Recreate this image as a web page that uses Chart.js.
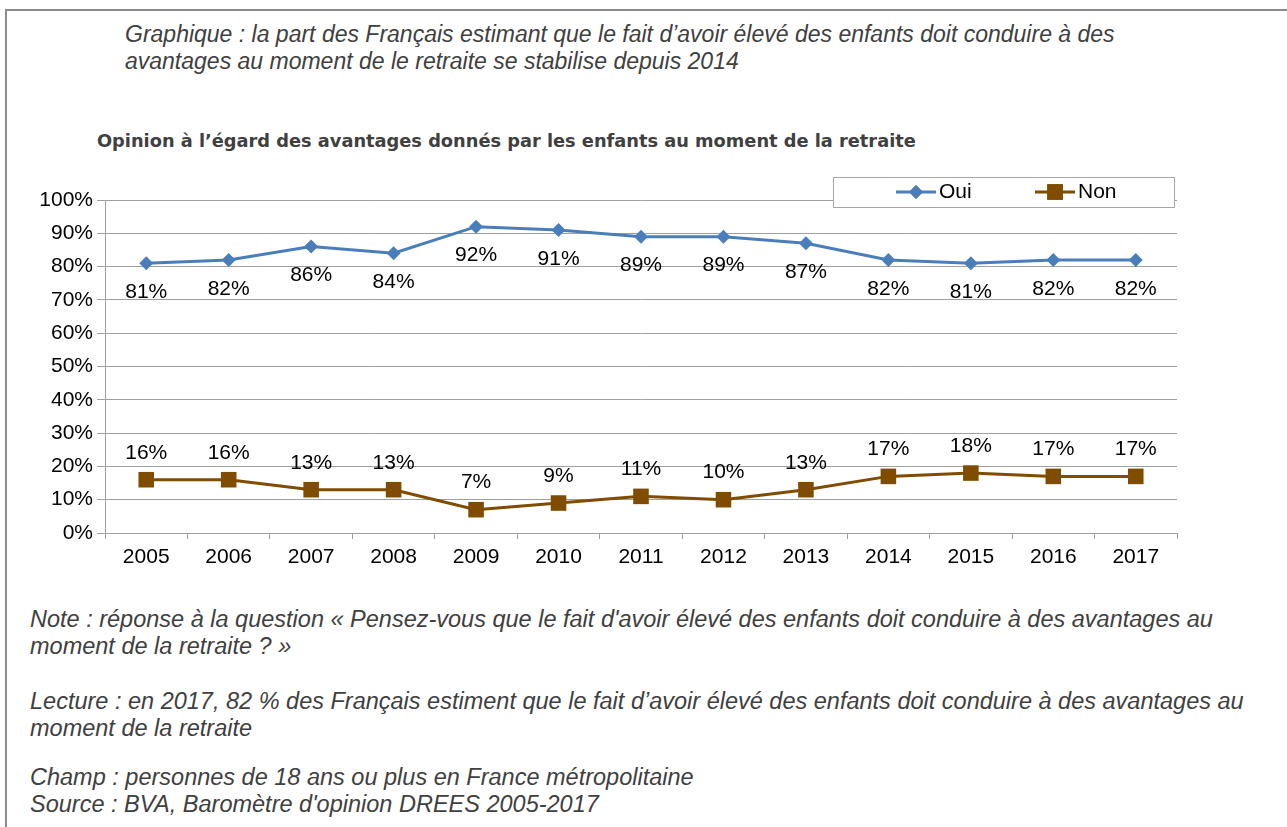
<!DOCTYPE html>
<html>
<head>
<meta charset="utf-8">
<script src="https://cdn.jsdelivr.net/npm/chart.js@4/dist/chart.umd.min.js"></script>
<style>
  body { margin: 0; background: #fff; font-family: "Liberation Sans", Arial, sans-serif; }
  #wrap { position: relative; width: 1287px; height: 827px; overflow: hidden; }
  #frame { position: absolute; left: 5px; top: 9px; width: 1300px; height: 900px; border-left: 2px solid #8c8c8c; border-top: 2px solid #8c8c8c; }
  .txt { position: absolute; font-style: italic; font-size: 23.5px; color: #404040; white-space: nowrap; line-height: 27px; }
  #title { position: absolute; left: 97px; top: 130px; font-family: "DejaVu Sans", sans-serif; font-weight: bold; font-size: 17.8px; color: #404040; white-space: nowrap; }
  canvas { position: absolute; left: 0; top: 0; }
</style>
</head>
<body>
<div id="wrap">
  <div id="frame"></div>
  <div class="txt" style="left:125px; top:21px; font-size:23px;">Graphique : la part des Français estimant que le fait d’avoir élevé des enfants doit conduire à des<br>avantages au moment de le retraite se stabilise depuis 2014</div>
  <div id="title">Opinion à l’égard des avantages donnés par les enfants au moment de la retraite</div>
  <div class="txt" style="left:30px; top:606px;">Note : réponse à la question « Pensez-vous que le fait d'avoir élevé des enfants doit conduire à des avantages au<br>moment de la retraite ? »</div>
  <div class="txt" style="left:30px; top:688px;">Lecture : en 2017, 82 % des Français estiment que le fait d’avoir élevé des enfants doit conduire à des avantages au<br>moment de la retraite</div>
  <div class="txt" style="left:30px; top:764px;">Champ : personnes de 18 ans ou plus en France métropolitaine<br>Source : BVA, Baromètre d'opinion DREES 2005-2017</div>
  <canvas id="chart" width="1287" height="827"></canvas>
</div>
<script>
const years = ['2005', '2006', '2007', '2008', '2009', '2010', '2011', '2012', '2013', '2014', '2015', '2016', '2017'];
const oui = [81, 82, 86, 84, 92, 91, 89, 89, 87, 82, 81, 82, 82];
const non = [16, 16, 13, 13, 7, 9, 11, 10, 13, 17, 18, 17, 17];
const yTicks = [0, 10, 20, 30, 40, 50, 60, 70, 80, 90, 100];

const blue = '#4a7ebb';
const brown = '#7f4c00';
const fontFamily = '"Liberation Sans", Arial, sans-serif';
const labelFont = '21px ' + fontFamily;

// value labels: Oui below the point, Non above
const valueLabels = {
    id: 'valueLabels',
    afterDatasetsDraw(chart) {
        const ctx = chart.ctx;
        ctx.save();
        ctx.font = labelFont;
        ctx.fillStyle = '#000';
        ctx.textAlign = 'center';
        ctx.textBaseline = 'middle';
        chart.data.datasets.forEach((ds, i) => {
            const meta = chart.getDatasetMeta(i);
            meta.data.forEach((pt, j) => {
                const dy = i === 0 ? 29 : -27;
                ctx.fillText(ds.data[j] + '%', pt.x, pt.y + dy);
            });
        });
        ctx.restore();
    }
};

// boxed legend drawn over the top gridline
const boxLegend = {
    id: 'boxLegend',
    afterDraw(chart) {
        const ctx = chart.ctx;
        ctx.save();
        ctx.fillStyle = '#fff';
        ctx.fillRect(833, 177, 341, 30);
        ctx.strokeStyle = '#a6a6a6';
        ctx.lineWidth = 1;
        ctx.strokeRect(833.5, 177.5, 341, 30);

        const items = [
            { x: 916, text: 'Oui', color: blue, style: 'rectRot', r: 7 },
            { x: 1055, text: 'Non', color: brown, style: 'rect', r: 11 }
        ];
        const y = 192;
        items.forEach(it => {
            ctx.strokeStyle = it.color;
            ctx.lineWidth = 3;
            ctx.beginPath();
            ctx.moveTo(it.x - 20, y);
            ctx.lineTo(it.x + 20, y);
            ctx.stroke();
            ctx.fillStyle = it.color;
            Chart.helpers.drawPoint(ctx, { pointStyle: it.style, radius: it.r, borderWidth: 0 }, it.x, y);
            ctx.fill();
            ctx.fillStyle = '#000';
            ctx.font = labelFont;
            ctx.textBaseline = 'middle';
            ctx.fillText(it.text, it.x + 23, y);
        });
        ctx.restore();
    }
};

new Chart(document.getElementById('chart'), {
    type: 'line',
    data: {
        labels: years,
        datasets: [
            {
                label: 'Oui',
                data: oui,
                borderColor: blue,
                backgroundColor: blue,
                borderWidth: 3,
                pointStyle: 'rectRot',
                pointRadius: 7,
                pointBorderWidth: 0,
                tension: 0
            },
            {
                label: 'Non',
                data: non,
                borderColor: brown,
                backgroundColor: brown,
                borderWidth: 3,
                pointStyle: 'rect',
                pointRadius: 11,
                pointBorderWidth: 0,
                tension: 0
            }
        ]
    },
    options: {
        responsive: false,
        animation: false,
        layout: { padding: { left: 20, top: 200, right: 110, bottom: 254 } },
        plugins: {
            legend: { display: false },
            tooltip: { enabled: false }
        },
        scales: {
            x: {
                offset: true,
                grid: { offset: true, drawOnChartArea: false, tickLength: 6, color: '#a0a0a0' },
                border: { color: '#a0a0a0', width: 1 },
                ticks: { color: '#000', font: { size: 21, family: fontFamily }, padding: 6, maxRotation: 0 },
                afterFit(scale) { scale.height = 40; }
            },
            y: {
                min: 0,
                max: 100,
                afterBuildTicks(scale) { scale.ticks = yTicks.map(v => ({ value: v })); },
                grid: { color: '#a0a0a0', tickLength: 8 },
                border: { color: '#a0a0a0', width: 1 },
                ticks: {
                    color: '#000',
                    font: { size: 21, family: fontFamily },
                    padding: 4,
                    callback: v => v + '%'
                },
                afterFit(scale) { scale.width = 85; }
            }
        }
    },
    plugins: [valueLabels, boxLegend]
});
</script>
</body>
</html>
